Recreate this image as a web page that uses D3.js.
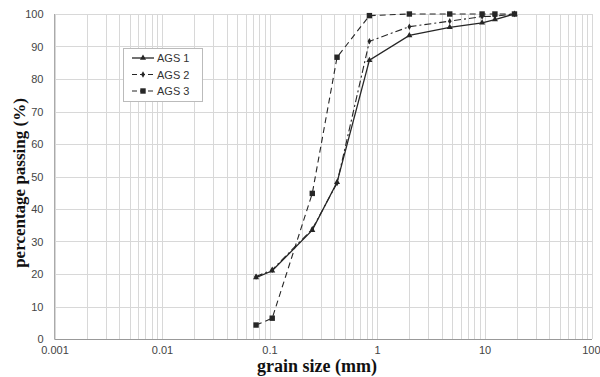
<!DOCTYPE html>
<html><head><meta charset="utf-8">
<script src="https://cdn.jsdelivr.net/npm/d3@7"></script>
<style>
html,body{margin:0;padding:0;background:#fff;}
svg{display:block;}
</style></head>
<body>
<svg id="chart" width="600" height="377"></svg>
<script>
// grain sizes (mm)
const sizes = [0.075, 0.106, 0.25, 0.425, 0.85, 2.0, 4.75, 9.5, 12.5, 19.0];
const ags1 = [18.9, 21.0, 33.5, 48.2, 85.8, 93.4, 95.9, 97.3, 98.3, 100];
const ags2 = [19.2, 21.3, 33.8, 48.0, 91.6, 96.1, 97.8, 99.2, 99.3, 100];
const ags3 = [4.3, 6.4, 44.8, 86.7, 99.5, 100, 100, 100, 100, 100];
const seriesNames = ["AGS 1", "AGS 2", "AGS 3"];
const xTicks = [0.001, 0.01, 0.1, 1, 10, 100];
const xTickLabels = ["0.001", "0.01", "0.1", "1", "10", "100"];
const yTicks = [0, 10, 20, 30, 40, 50, 60, 70, 80, 90, 100];

const svg = d3.select("#chart");
const L = 54.5, R = 592, T = 14, B = 339;
const x = d3.scaleLog().domain([0.001, 100]).range([L, R]);
const y = d3.scaleLinear().domain([0, 100]).range([B, T]);

// minor + major vertical grid
const vgrid = [];
for (let e = -3; e < 2; e++) for (let m = 1; m <= 9; m++) vgrid.push(m * Math.pow(10, e));
vgrid.push(100);
svg.append("g").selectAll("line").data(vgrid).join("line")
  .attr("x1", d => Math.round(x(d)) + 0.5).attr("x2", d => Math.round(x(d)) + 0.5)
  .attr("y1", T).attr("y2", B)
  .attr("stroke", "#d8d8d8").attr("stroke-width", 1);
svg.append("g").selectAll("line").data(yTicks).join("line")
  .attr("x1", L).attr("x2", R)
  .attr("y1", d => Math.round(y(d)) + 0.5).attr("y2", d => Math.round(y(d)) + 0.5)
  .attr("stroke", "#d8d8d8").attr("stroke-width", 1);
// left and bottom axis lines
svg.append("line").attr("x1", L).attr("x2", L).attr("y1", T).attr("y2", B)
  .attr("stroke", "#aaa");
svg.append("line").attr("x1", L).attr("x2", R).attr("y1", Math.round(B) + 0.5).attr("y2", Math.round(B) + 0.5)
  .attr("stroke", "#999").attr("stroke-width", 1.2);

// axes labels via d3 axes (tick lines hidden)
const yAxis = svg.append("g").attr("transform", `translate(${L},0)`)
  .call(d3.axisLeft(y).tickValues(yTicks).tickSize(0).tickPadding(11));
yAxis.select(".domain").remove();
yAxis.selectAll("text").attr("font-family", "Liberation Sans, Arial, sans-serif")
  .attr("font-size", 11).attr("fill", "#444");
const xAxis = svg.append("g").attr("transform", `translate(0,${B})`)
  .call(d3.axisBottom(x).tickValues(xTicks).tickFormat((d, i) => xTickLabels[i]).tickSize(0).tickPadding(7));
xAxis.select(".domain").remove();
xAxis.selectAll("text").attr("font-family", "Liberation Sans, Arial, sans-serif")
  .attr("font-size", 11).attr("fill", "#444")
  .filter(d => d === 100).attr("text-anchor", "end").attr("dx", 8);

// titles
svg.append("text").attr("x", 317).attr("y", 372).attr("text-anchor", "middle")
  .attr("font-family", "Liberation Serif, Times New Roman, serif").attr("font-weight", "bold")
  .attr("font-size", 18).attr("fill", "#111").text("grain size (mm)");
svg.append("text").attr("transform", "translate(25,183) rotate(-90)").attr("text-anchor", "middle")
  .attr("font-family", "Liberation Serif, Times New Roman, serif").attr("font-weight", "bold")
  .attr("font-size", 17).attr("fill", "#111").text("percentage passing (%)");

const styles = [
  { dash: null, marker: "triangle", w: 1.3 },
  { dash: "7,3,2,3", marker: "diamond", w: 1.1 },
  { dash: "6,4", marker: "square", w: 1.1 }
];
const allSeries = [ags1, ags2, ags3];
const line = d3.line().x((d, i) => x(sizes[i])).y(d => y(d));
const col = "#262626";
function marker(g, type, cx, cy) {
  if (type === "square") g.append("rect").attr("x", cx - 2.7).attr("y", cy - 2.7).attr("width", 5.4).attr("height", 5.4).attr("fill", col);
  else if (type === "triangle") g.append("path").attr("d", d3.symbol(d3.symbolTriangle, 16)()).attr("transform", `translate(${cx},${cy})`).attr("fill", col);
  else g.append("path").attr("d", d3.symbol(d3.symbolDiamond, 12)()).attr("transform", `translate(${cx},${cy})`).attr("fill", col);
}
allSeries.forEach((s, k) => {
  svg.append("path").datum(s).attr("d", line).attr("fill", "none")
    .attr("stroke", col).attr("stroke-width", styles[k].w)
    .attr("stroke-dasharray", styles[k].dash);
  const g = svg.append("g");
  s.forEach((v, i) => marker(g, styles[k].marker, x(sizes[i]), y(v)));
});

// legend
const lg = svg.append("g");
lg.append("rect").attr("x", 123.5).attr("y", 48.5).attr("width", 79).attr("height", 53)
  .attr("fill", "#fff").attr("stroke", "#bbb");
seriesNames.forEach((n, k) => {
  const yy = 58 + k * 16.5;
  lg.append("line").attr("x1", 132).attr("x2", 154).attr("y1", yy).attr("y2", yy)
    .attr("stroke", col).attr("stroke-width", styles[k].w).attr("stroke-dasharray", styles[k].dash ? "5,3" : null);
  marker(lg, styles[k].marker, 143, yy);
  lg.append("text").attr("x", 157).attr("y", yy + 4).attr("font-family", "Liberation Sans, Arial, sans-serif")
    .attr("font-size", 11).attr("fill", "#333").text(n);
});
</script>
</body></html>
